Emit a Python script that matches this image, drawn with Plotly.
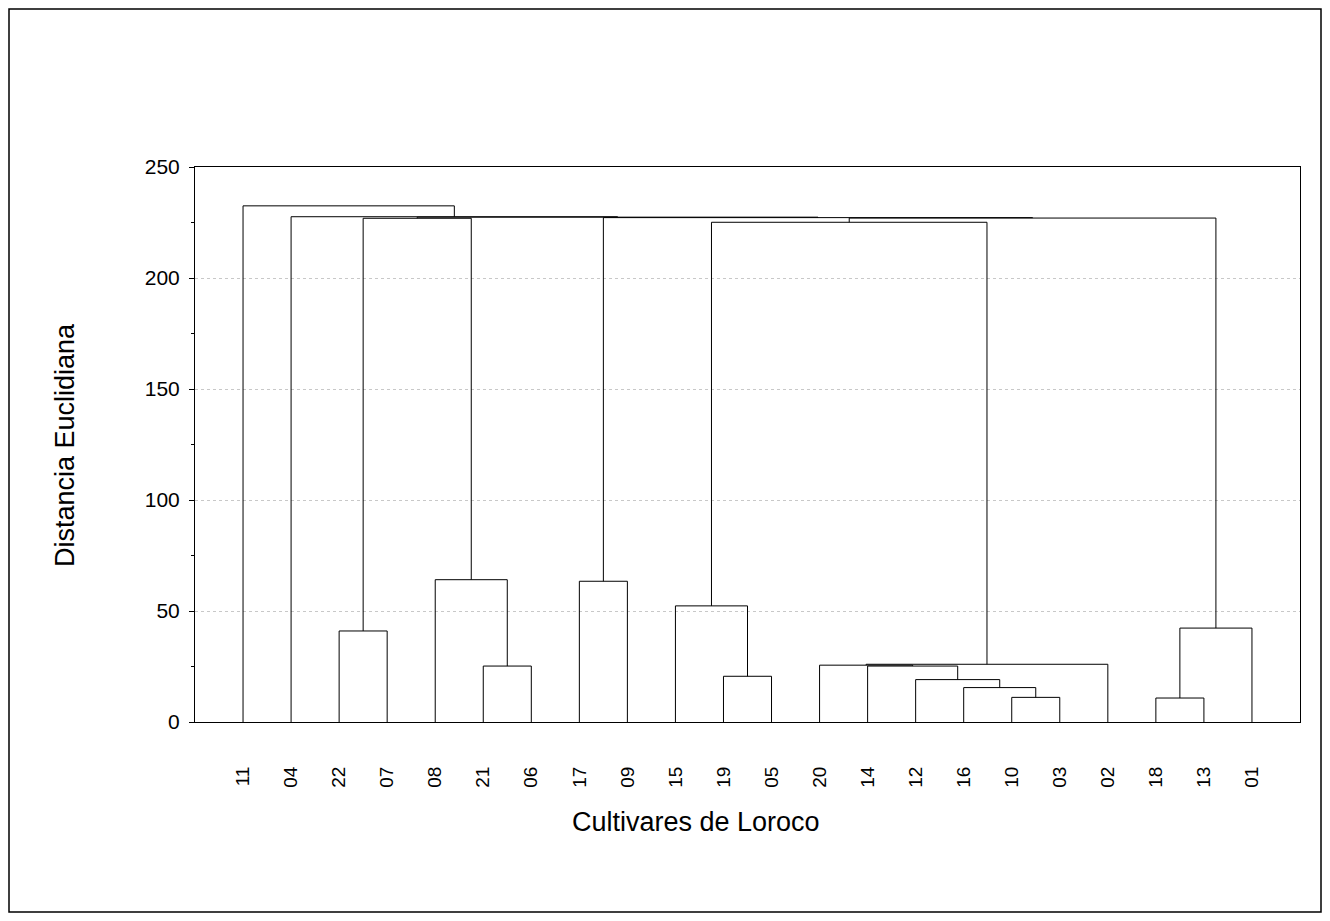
import plotly.graph_objects as go

# Leaf order as shown on the x axis
leaf_labels = ["11", "04", "22", "07", "08", "21", "06", "17", "09", "15", "19",
               "05", "20", "14", "12", "16", "10", "03", "02", "18", "13", "01"]

# Linkage: (cluster a, cluster b); ids < 22 are leaves (by display position),
# ids >= 22 are earlier merges in this list order
merge_pairs = [(19, 20), (16, 17), (15, 23), (14, 24), (13, 25), (12, 26), (27, 18),
               (10, 11), (9, 29), (5, 6), (4, 31), (7, 8), (2, 3), (22, 21),
               (30, 28), (36, 35), (33, 37), (34, 32), (39, 38), (1, 40), (0, 41)]
merge_heights = [10.8, 11.1, 15.5, 19.1, 25.2, 25.6, 26.0,
                 20.6, 52.3, 25.2, 64.1, 63.4, 41.0, 42.3,
                 225.1, 227.0, 227.2, 226.9, 227.4, 227.6, 232.5]

y_ticks = [0, 50, 100, 150, 200, 250]

n = len(leaf_labels)
pos = {i: float(i + 1) for i in range(n)}
hgt = {i: 0.0 for i in range(n)}
xs, ys = [], []
for k, ((a, b), h) in enumerate(zip(merge_pairs, merge_heights)):
    xa, xb = pos[a], pos[b]
    xs += [xa, xa, xb, xb, None]
    ys += [hgt[a], h, h, hgt[b], None]
    cid = n + k
    pos[cid] = (xa + xb) / 2
    hgt[cid] = h

# page geometry (the page body adds an 8px offset)
OFF = 8
PL, PR, PT, PB = 195, 1300, 167, 722   # plot area in page pixels
W, H = 1322, 913
L, T = PL - OFF, PT - OFF
R = W - (PR - OFF)
B = H - (PB - OFF)
pw, ph = PR - PL, PB - PT

def px(x):
    return (x - PL) / pw

def py(y):
    return (PB - y) / ph

font_family = "Liberation Sans, Arial, sans-serif"

fig = go.Figure()
fig.add_trace(go.Scatter(x=xs, y=ys, mode="lines",
                         line=dict(color="black", width=1),
                         hoverinfo="skip", showlegend=False))

fig.update_layout(
    width=W, height=H,
    margin=dict(l=L, r=R, t=T, b=B, autoexpand=False),
    paper_bgcolor="white", plot_bgcolor="white",
    font=dict(family=font_family, color="black", size=18),
    showlegend=False,
    xaxis=dict(range=[0, n + 1], tickvals=list(range(1, n + 1)), ticktext=leaf_labels,
               tickangle=-90, ticks="", showgrid=False, zeroline=False,
               showline=True, linecolor="black", linewidth=1, mirror=True,
               ticklabelstandoff=36, tickfont=dict(size=19)),
    yaxis=dict(range=[0, 250], tickvals=y_ticks, ticks="outside", ticklen=5,
               tickcolor="black", showgrid=True, gridcolor="#c8c8c8", griddash="dot",
               gridwidth=1, zeroline=False, showline=True, linecolor="black",
               linewidth=1, mirror=True, tickfont=dict(size=21),
               ticklabelstandoff=5,
               minor=dict(ticks="outside", ticklen=3, tickcolor="black", dtick=25,
                          showgrid=False)),
    annotations=[
        dict(text="Cultivares de Loroco", xref="paper", yref="paper",
             x=px(696), y=py(822), xanchor="center", yanchor="middle",
             showarrow=False, font=dict(size=27)),
        dict(text="Distancia Euclidiana", xref="paper", yref="paper",
             x=px(65), y=py(445), xanchor="center", yanchor="middle",
             showarrow=False, textangle=-90, font=dict(size=27)),
    ],
    shapes=[dict(type="rect", xref="paper", yref="paper",
                 x0=px(9), x1=px(1321), y0=py(912), y1=py(9),
                 line=dict(color="black", width=1.5))],
)

fig.write_html("out.html")
